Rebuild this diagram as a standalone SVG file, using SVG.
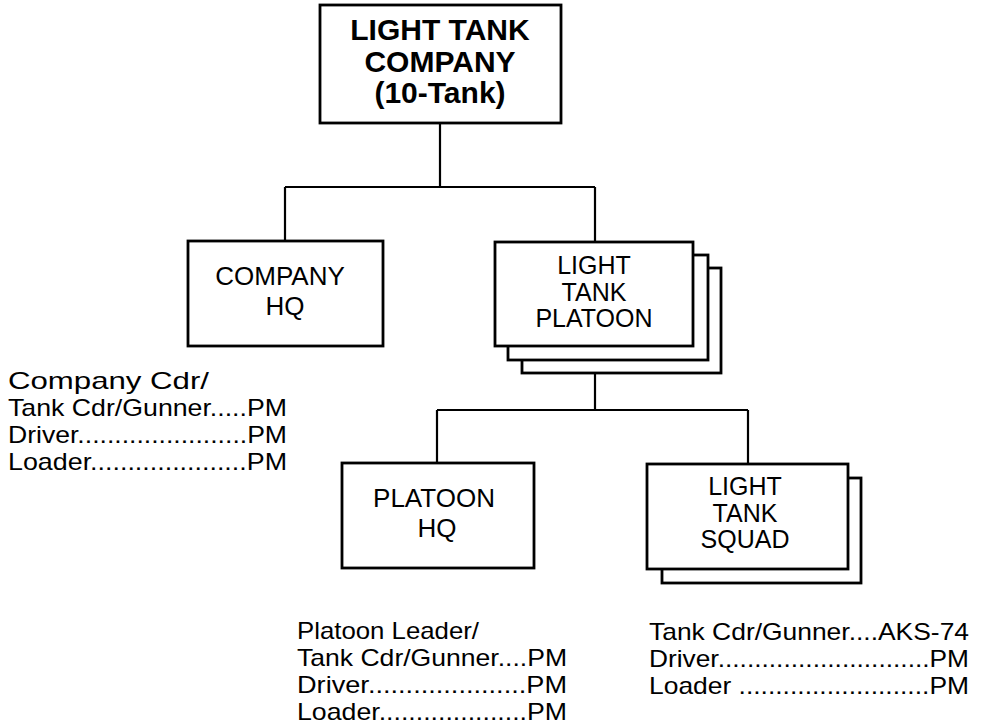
<svg xmlns="http://www.w3.org/2000/svg" width="981" height="725" viewBox="0 0 981 725">
<style>
.box{fill:#fff;stroke:#000;stroke-width:2.8}
.con{fill:none;stroke:#000;stroke-width:2.2}
.lbl{font-family:"Liberation Sans",Arial,Helvetica,sans-serif;font-size:25px;fill:#000;text-anchor:middle}
.big{font-family:"Liberation Sans",Arial,Helvetica,sans-serif;font-size:30px;font-weight:bold;fill:#000;text-anchor:middle}
.info{font-family:"Liberation Sans",Arial,Helvetica,sans-serif;font-size:24px;fill:#000}
</style>
<rect width="981" height="725" fill="#fff"/>
<g id="connectors">
<path class="con" d="M440 123V187M285 187H595M285 187V241M595 187V242"/>
<path class="con" d="M595 373V410M437 410H748M437 410V463M748 410V464"/>
</g>
<g id="company">
<rect class="box" x="320" y="5" width="241" height="118"/>
<text class="big" x="440" y="40">LIGHT TANK</text>
<text class="big" x="440" y="72">COMPANY</text>
<text class="big" x="440" y="103">(10-Tank)</text>
</g>
<g id="company-hq">
<rect class="box" x="188" y="241" width="195" height="105"/>
<text class="lbl" x="280" y="285" style="font-size:26px">COMPANY</text>
<text class="lbl" x="285" y="315" style="font-size:26px">HQ</text>
</g>
<g id="platoon">
<rect class="box" x="522" y="268" width="199" height="105"/>
<rect class="box" x="508" y="255" width="200" height="105"/>
<rect class="box" x="495" y="242" width="198" height="104"/>
<text class="lbl" x="594" y="274">LIGHT</text>
<text class="lbl" x="594" y="301">TANK</text>
<text class="lbl" x="594" y="327">PLATOON</text>
</g>
<g id="platoon-hq">
<rect class="box" x="342" y="463" width="192" height="105"/>
<text class="lbl" x="434" y="507" style="font-size:26px">PLATOON</text>
<text class="lbl" x="437" y="537" style="font-size:26px">HQ</text>
</g>
<g id="squad">
<rect class="box" x="662" y="478" width="199" height="105"/>
<rect class="box" x="647" y="464" width="201" height="105"/>
<text class="lbl" x="745" y="495">LIGHT</text>
<text class="lbl" x="745" y="522">TANK</text>
<text class="lbl" x="745" y="548">SQUAD</text>
</g>
<g id="company-hq-crew">
<text class="info" x="8" y="389" textLength="201" lengthAdjust="spacingAndGlyphs">Company Cdr/</text>
<text class="info" x="8" y="416" textLength="279" lengthAdjust="spacingAndGlyphs">Tank Cdr/Gunner.....PM</text>
<text class="info" x="8" y="443" textLength="279" lengthAdjust="spacingAndGlyphs">Driver.......................PM</text>
<text class="info" x="8" y="470" textLength="279" lengthAdjust="spacingAndGlyphs">Loader.....................PM</text>
</g>
<g id="platoon-hq-crew">
<text class="info" x="297" y="639" textLength="182" lengthAdjust="spacingAndGlyphs">Platoon Leader/</text>
<text class="info" x="297" y="666" textLength="270" lengthAdjust="spacingAndGlyphs">Tank Cdr/Gunner....PM</text>
<text class="info" x="297" y="693" textLength="270" lengthAdjust="spacingAndGlyphs">Driver.....................PM</text>
<text class="info" x="297" y="720" textLength="270" lengthAdjust="spacingAndGlyphs">Loader....................PM</text>
</g>
<g id="squad-crew">
<text class="info" x="649" y="640" textLength="320" lengthAdjust="spacingAndGlyphs">Tank Cdr/Gunner....AKS-74</text>
<text class="info" x="649" y="667" textLength="320" lengthAdjust="spacingAndGlyphs">Driver.............................PM</text>
<text class="info" x="649" y="694" textLength="320" lengthAdjust="spacingAndGlyphs">Loader ..........................PM</text>
</g>
</svg>
